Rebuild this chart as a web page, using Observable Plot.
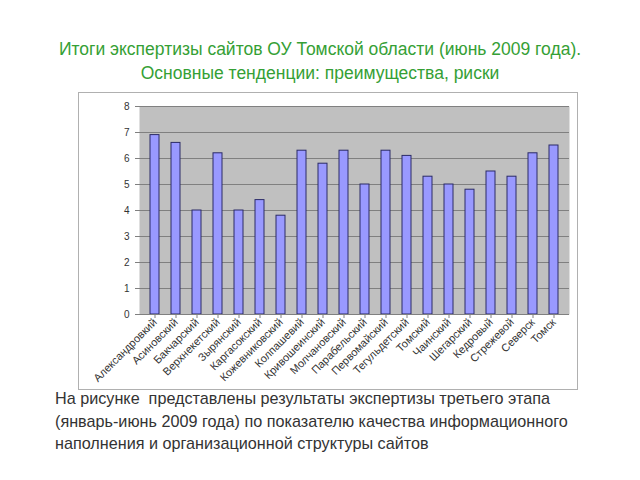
<!DOCTYPE html>
<html><head><meta charset="utf-8">
<script src="https://cdn.jsdelivr.net/npm/d3@7"></script>
<script src="https://cdn.jsdelivr.net/npm/@observablehq/plot@0.6"></script>
<style>
body{margin:0;background:#fff;width:640px;height:480px;overflow:hidden;position:relative;font-family:"Liberation Sans",Arial,sans-serif;}
#title{position:absolute;left:0;width:640px;top:37px;text-align:center;color:#35a035;font-size:17.5px;line-height:24px;}
#chart{position:absolute;left:78px;top:92px;width:500px;height:298px;border:1px solid #b0b0b0;box-sizing:border-box;}
#caption{position:absolute;left:55px;top:387px;color:#333;font-size:16.2px;line-height:22.5px;}
</style></head>
<body>
<div id="title">Итоги экспертизы сайтов ОУ Томской области (июнь 2009 года).<br>Основные тенденции: преимущества, риски</div>
<div id="chart"></div>
<div id="caption">На рисунке&nbsp; представлены результаты экспертизы третьего этапа<br>(январь-июнь 2009 года) по показателю качества информационного<br>наполнения и организационной структуры сайтов</div>
<script>
const districts = ["Александровкий","Асиновский","Бакчарский","Верхнекетский","Зырянский","Каргасокский","Кожевниковский","Колпашевий","Кривошеинский","Молчановский","Парабельский","Первомайский","Тегульдетский","Томский","Чаинский","Шегарский","Кедровый","Стрежевой","Северск","Томск"];
const scores = [6.9,6.6,4.0,6.2,4.0,4.4,3.8,6.3,5.8,6.3,5.0,6.3,6.1,5.3,5.0,4.8,5.5,5.3,6.2,6.5];
const yTicks = [0,1,2,3,4,5,6,7,8];
const data = districts.map((d,i)=>({district:d, score:scores[i]}));
const chart = Plot.plot({
  width: 498, height: 296,
  marginLeft: 60, marginRight: 8, marginTop: 13, marginBottom: 75,
  style: {fontFamily:"Liberation Sans, Arial, sans-serif", fontSize:"10px", color:"#333", background:"#fff"},
  x: {domain: districts, paddingInner: 0.55, paddingOuter: 0.2, align: 0.5, label: null},
  y: {domain: [0,8], label: null},
  marks: [
    Plot.frame({fill:"#c0c0c0", stroke:null}),
    Plot.gridY(yTicks, {stroke:"#808080", strokeOpacity:1}),
    Plot.barY(data, {x:"district", y:"score", fill:"#9999ff", stroke:"#2a2a66", strokeWidth:1}),
    Plot.axisY({ticks: yTicks, tickSize:4, tickPadding:6, stroke:"#808080", fontSize:10}),
    Plot.ruleX([0], {frameAnchor:"left", stroke:"#808080"}),
    Plot.ruleY([0], {stroke:"#808080"}),
    Plot.axisX({tickRotate:-45, tickSize:4, tickPadding:2, stroke:"#808080", fontSize:11})
  ]
});
document.getElementById("chart").appendChild(chart);
</script>
</body></html>
